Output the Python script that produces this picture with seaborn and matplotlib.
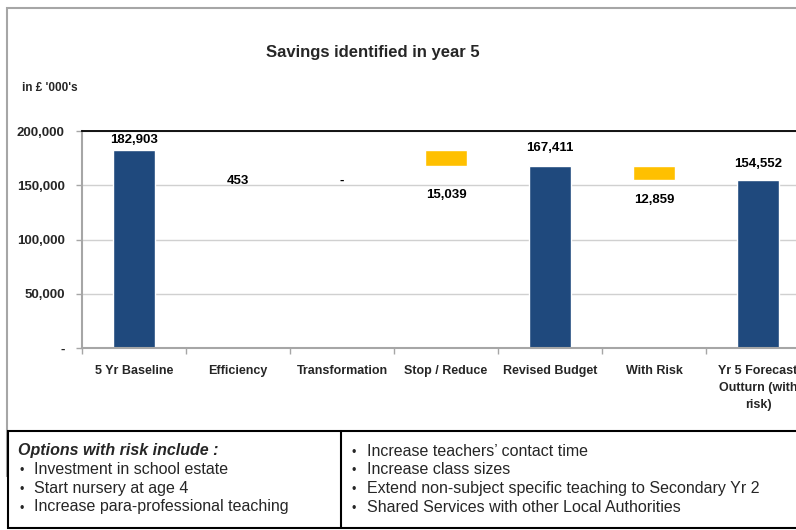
import matplotlib
matplotlib.use("Agg")
import matplotlib.pyplot as plt
from matplotlib.patches import Rectangle
from matplotlib.lines import Line2D
from matplotlib.ticker import FuncFormatter
import numpy as np
import pandas as pd
import seaborn as sns

# chart data
categories = [
    "5 Yr Baseline",
    "Efficiency",
    "Transformation",
    "Stop / Reduce",
    "Revised Budget",
    "With Risk",
    "Yr 5 Forecast\nOutturn (with\nrisk)",
]
values = [182903, 453, 0, 15039, 167411, 12859, 154552]
is_total = [True, False, False, False, True, False, True]
value_labels = ["182,903", "453", "-", "15,039", "167,411", "12,859", "154,552"]
y_ticks = [0, 50000, 100000, 150000, 200000]

left_notes = [
    "Investment in school estate",
    "Start nursery at age 4",
    "Increase para-professional teaching",
]
right_notes = [
    "Increase teachers\u2019 contact time",
    "Increase class sizes",
    "Extend non-subject specific teaching to Secondary Yr 2",
    "Shared Services with other Local Authorities",
]

NAVY = "#1F497D"
GOLD = "#FFC000"
GREY = "#A6A6A6"

# waterfall bases
bottoms = []
running = 0
for val, total in zip(values, is_total):
    if total:
        bottoms.append(0)
        running = val
    else:
        running -= val
        bottoms.append(running)

df = pd.DataFrame({"category": categories, "value": values, "bottom": bottoms})
palette = {c: (NAVY if t else GOLD) for c, t in zip(categories, is_total)}

sns.set_theme(style="white")
plt.rcParams["font.family"] = ["Liberation Sans", "DejaVu Sans"]

W, H = 796, 530
fig = plt.figure(figsize=(W / 100, H / 100), dpi=100)
fig.patch.set_facecolor("white")

# outer chart frame (drawn under the axes)
frame = Rectangle((7 / W, 0.1), 1.2, 1 - 8 / H - 0.1, transform=fig.transFigure,
                  fill=False, edgecolor=GREY, linewidth=1.5, zorder=-1)
fig.add_artist(frame)

ax = fig.add_axes([82 / W, 182 / H, 728 / W, 217 / H])
ax.patch.set_alpha(0)
sns.barplot(data=df, x="category", y="value", hue="category", palette=palette,
            width=0.41, saturation=1, legend=False, ax=ax)
for patch, base in zip(ax.patches, bottoms):
    patch.set_y(base)

# value labels: totals above the bar, savings below
label_offsets = [9.5, -30.5, -31, -28.5, 18.5, -19.5, 16.5]
for i, (lab, val, base, total) in enumerate(zip(value_labels, values, bottoms, is_total)):
    anchor = base + val if total else base
    ax.annotate(lab, (i, anchor), xytext=(0, label_offsets[i]), textcoords="offset pixels",
                ha="center", va="center", fontsize=9.5, fontweight="bold", color="black")

ax.set_xlim(-0.5, 6.5)
ax.set_ylim(0, 200000)
ax.set_yticks(y_ticks)
ax.yaxis.set_major_formatter(FuncFormatter(lambda v, _: "-" if v == 0 else f"{v:,.0f}"))
ax.yaxis.grid(True, color="#D0D0D0", linewidth=1.0)
ax.set_axisbelow(True)
ax.set_xlabel("")
ax.set_ylabel("")

ax.set_xticks(range(len(categories)))
ax.set_xticklabels(categories, fontsize=9, fontweight="bold", linespacing=1.6)
ax.set_xticks(np.arange(-0.5, len(categories)), minor=True)
ax.tick_params(axis="x", which="major", length=0, pad=12)
ax.tick_params(axis="x", which="minor", length=4, width=1, color=GREY, bottom=True)
ax.tick_params(axis="y", length=4, width=1, color=GREY, left=True, pad=8.5, labelsize=9.5)
for t in ax.get_yticklabels():
    t.set_fontweight("bold")

for side in ["left", "bottom"]:
    ax.spines[side].set_color(GREY)
    ax.spines[side].set_linewidth(1.5)
ax.spines["top"].set_color("black")
ax.spines["top"].set_linewidth(1.3)
ax.spines["right"].set_visible(False)

fig.text(373 / W, 1 - 52 / H, "Savings identified in year 5", ha="center", va="center",
         fontsize=12, fontweight="bold")
fig.text(22 / W, 1 - 88 / H, "in \u00a3 '000's", ha="left", va="center",
         fontsize=8.5, fontweight="bold")

# notes table
table_top, table_bot = 1 - 431 / H, 1 - 528 / H
fig.add_artist(Rectangle((8 / W, table_bot), 1.2, table_top - table_bot, transform=fig.transFigure,
                         facecolor="white", edgecolor="black", linewidth=1.5))
fig.add_artist(Line2D([341 / W, 341 / W], [table_bot, table_top], transform=fig.transFigure,
                      color="black", linewidth=1.5))

row_y = [451, 469, 488, 507]
fig.text(18 / W, 1 - row_y[0] / H, "Options with risk include :", ha="left", va="center",
         fontsize=11.5, fontweight="bold", fontstyle="italic")
for y, note in zip(row_y[1:], left_notes):
    fig.text(20 / W, 1 - (y + 2) / H, "\u2022", ha="left", va="center", fontsize=9)
    fig.text(34 / W, 1 - y / H, note, ha="left", va="center", fontsize=11.5)
for y, note in zip(row_y, right_notes):
    fig.text(352 / W, 1 - (y + 2) / H, "\u2022", ha="left", va="center", fontsize=9)
    fig.text(367 / W, 1 - y / H, note, ha="left", va="center", fontsize=11.5)

fig.savefig("out.png", dpi=100)
